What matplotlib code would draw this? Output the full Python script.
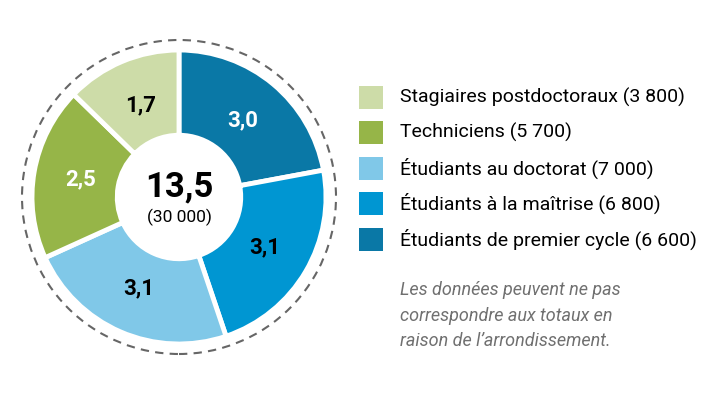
import matplotlib
matplotlib.use("Agg")
import matplotlib.pyplot as plt
from matplotlib.patches import Circle, Rectangle

plt.rcParams["font.family"] = ["Roboto", "DejaVu Sans"]

# -- data, clockwise from the top of the ring
categories = ["Étudiants de premier cycle", "Étudiants à la maîtrise",
              "Étudiants au doctorat", "Techniciens", "Stagiaires postdoctoraux"]
values     = [3.0, 3.1, 3.1, 2.5, 1.7]
counts     = [6600, 6800, 7000, 5700, 3800]
colors     = ["#0a78a6", "#0096d2", "#80c8e8", "#96b548", "#cddca8"]
txtcols    = ["w", "k", "k", "w", "k"]
total      = "13,5"
total_n    = "(30 000)"
note       = "Les données peuvent ne pas\ncorrespondre aux totaux en\nraison de l\u2019arrondissement."

W, H = 710, 395
fig = plt.figure(figsize=(W / 100., H / 100.), dpi=100, facecolor="w")

# -- donut axes (center ~ (179, 197) px, radius ~147 px)
cx, cy, rad, half = 179, 197, 147, 160
ax = fig.add_axes([(cx - half) / W, (H - cy - half) / H, 2 * half / W, 2 * half / H])

# wedges sized by head counts, labelled with the rounded values
labs = [("%.1f" % v).replace(".", ",") for v in values]
wedges, texts = ax.pie(counts, colors=colors, startangle=90, counterclock=False,
                       labels=labs, labeldistance=0.68,
                       wedgeprops=dict(width=0.58, edgecolor="w", linewidth=3.5))
for t, c in zip(texts, txtcols):
    t.set_color(c)
    t.set_fontsize(16)
    t.set_fontweight("bold")
    t.set_ha("center")
    t.set_va("center")

# pie() resets the limits, so set them afterwards
ax.set_xlim(-half / rad, half / rad)
ax.set_ylim(-half / rad, half / rad)
ax.set_aspect("equal")
ax.axis("off")

ax.add_patch(Circle((0, 0), 157. / rad, fill=False, ec="#666666", lw=1.5,
                    ls=(0, (4, 3))))
ax.text(0, 0.07, total, ha="center", va="center", fontsize=25, fontweight="bold")
ax.text(0, -0.14, total_n, ha="center", va="center", fontsize=12.5)

# -- legend (reverse order, stagiaires on top)
y0, dy = 97, 35.6
for i, k in enumerate(range(len(categories) - 1, -1, -1)):
    yc = y0 + i * dy
    fig.add_artist(Rectangle((359. / W, (H - yc - 11.5) / H), 24. / W, 23. / H,
                             transform=fig.transFigure, fc=colors[k], ec="none"))
    lab = "%s (%s)" % (categories[k], "{:,}".format(counts[k]).replace(",", "\u00a0"))
    fig.text(400. / W, (H - yc) / H, lab, ha="left", va="center", fontsize=14)

fig.text(400. / W, (H - 281) / H, note, ha="left", va="top", fontsize=13,
         style="italic", color="#707070", linespacing=1.55)

fig.savefig("out.png", dpi=100, facecolor="w")
